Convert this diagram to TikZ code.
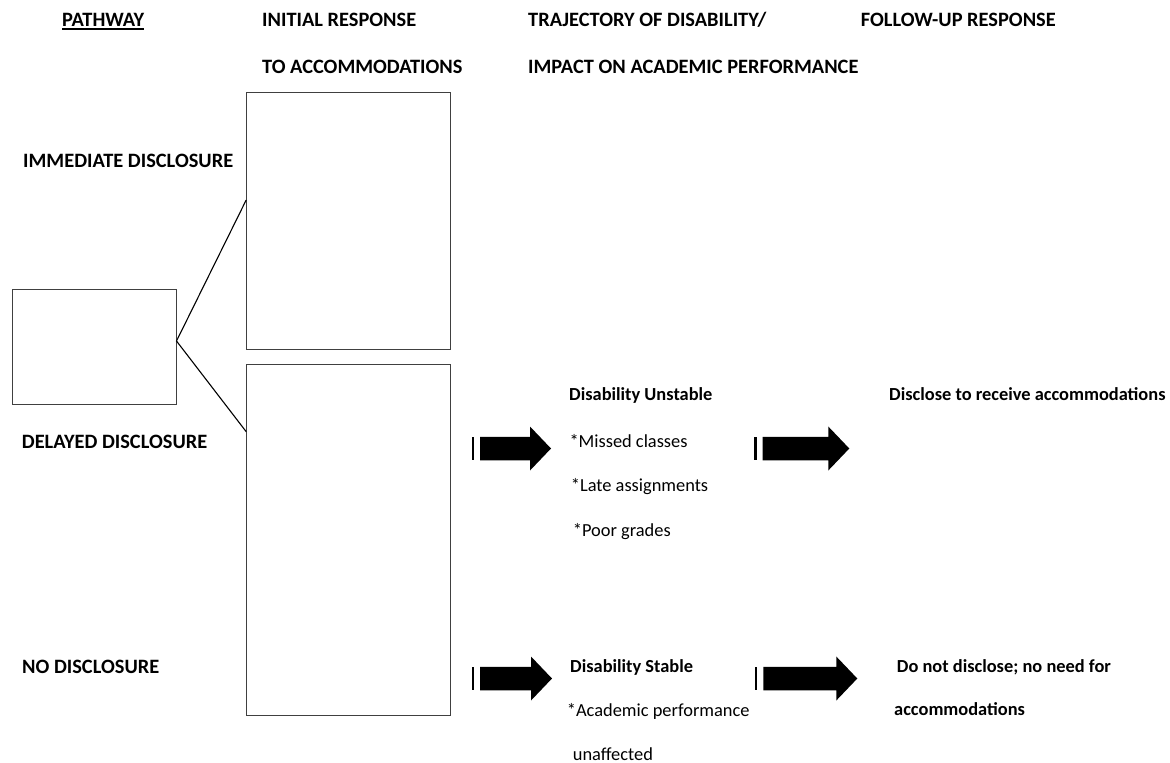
\documentclass[tikz,border=0pt]{standalone}
\usepackage{fontspec}
\setmainfont{Carlito}
\begin{document}
\begin{tikzpicture}[x=1pt,y=-1pt,
  lbl/.style={anchor=base west,inner sep=0pt,font=\fontsize{18.4}{22}\selectfont},
  sub/.style={lbl,font=\fontsize{18.4}{22}\selectfont\bfseries},
  hdr/.style={lbl,font=\fontsize{20.4}{24}\selectfont\bfseries},
  emptybox/.style={draw=black!75,line width=1pt,inner sep=0pt},
  link/.style={draw=black,line width=1.1pt},
  pics/blockarrow/.style={code={
    \fill[black] (0,-11.75) -- (#1,-11.75) -- (#1,-22) -- ({#1+21},0) -- (#1,22) -- (#1,11.75) -- (0,11.75) -- cycle;
    \fill[black] (-8.3,-11.3) rectangle (-6,11.3);
  }}]
\useasboundingbox (0,0) rectangle (1170,763);
\fill[white] (0,0) rectangle (1170,763);

% headers
\node[hdr] (pathway) at (62,26) {PATHWAY};
\draw[line width=1.3pt] ([yshift=-3pt]pathway.base west) -- ([yshift=-3pt]pathway.base east);
\node[hdr] (init1) at (262,26) {INITIAL RESPONSE};
\node[hdr] (init2) at (262,73) {TO ACCOMMODATIONS};
\node[hdr] (traj1) at (528,26) {TRAJECTORY OF DISABILITY/};
\node[hdr] (traj2) at (528,73) {IMPACT ON ACADEMIC PERFORMANCE};
\node[hdr] (follow) at (860.7,26) {FOLLOW-UP RESPONSE};

% pathway labels
\node[hdr] (immediate) at (23,167) {IMMEDIATE DISCLOSURE};
\node[hdr] (delayed) at (21.7,448) {DELAYED DISCLOSURE};
\node[hdr] (nodisc) at (22,673) {NO DISCLOSURE};

% boxes
\node[emptybox,minimum width=164pt,minimum height=115pt] (small) at (94,346.5) {};
\node[emptybox,minimum width=203.6pt,minimum height=256.7pt] (top) at (348.5,220.7) {};
\node[emptybox,minimum width=203.3pt,minimum height=351pt] (bottom) at (348.35,539.5) {};

% connectors
\coordinate (junction) at ([yshift=5.5pt]small.east);
\draw[link] ([yshift=20.7pt]top.west) -- (junction) -- ([yshift=107.8pt]bottom.west);

% block arrows
\pic at (480,448.5) {blockarrow=50};
\pic at (480,678.5) {blockarrow=51};
\pic at (762.7,448.5) {blockarrow=65.6};
\pic at (763.3,678.5) {blockarrow=73};

% trajectory texts
\node[sub] (unstable) at (569,400.7) {Disability Unstable};
\node[lbl] (missed) at (569.3,447.7) {*Missed classes};
\node[lbl] (late) at (570.7,491.7) {*Late assignments};
\node[lbl] (poor) at (572.7,536) {*Poor grades};
\node[sub] (stable) at (570,672.7) {Disability Stable};
\node[lbl] (acad) at (566.7,716) {*Academic performance};
\node[lbl] (unaff) at (572.7,760) {unaffected};

% follow-up texts
\node[sub] (discl) at (889,400) {Disclose to receive accommodations};
\node[sub] (donot) at (896.7,672.7) {Do not disclose; no need for};
\node[sub] (accom) at (894,715) {accommodations};
\end{tikzpicture}
\end{document}
